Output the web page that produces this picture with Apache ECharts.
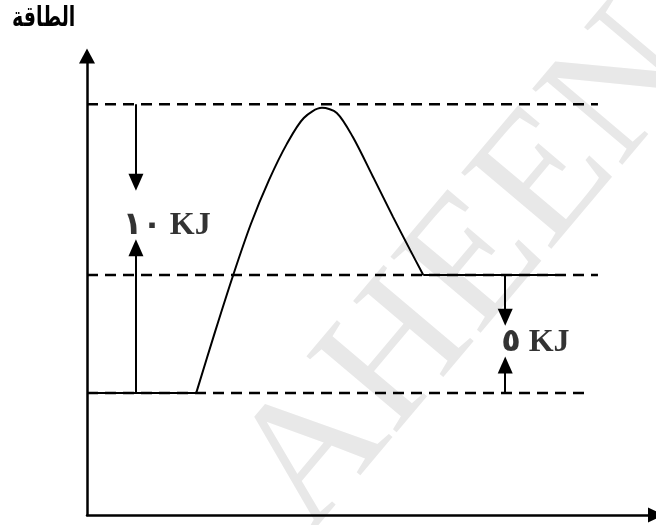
<!DOCTYPE html>
<html>
<head>
<meta charset="utf-8">
<script src="https://cdn.jsdelivr.net/npm/echarts@6/dist/echarts.min.js"></script>
<style>
html, body { margin: 0; padding: 0; background: #fff; }
#chart { width: 656px; height: 525px; }
</style>
</head>
<body>
<div id="chart"></div>
<script>
// مخطط الطاقة - values in arbitrary units (x: reaction progress, y: energy)
var reactantLevel = 26.6;
var productLevel = 52.3;
var peakLevel = 89.5;

var reactantLine = [[0, 26.6], [19.2, 26.6]];
var humpCurve = [[19.2, 26.6], [22.5, 39.9], [25.7, 52.3], [28.8, 63.4], [32.0, 73.0],
	[35.1, 80.8], [38.1, 86.5], [41.3, 88.7], [43.9, 87.6], [46.7, 82.4],
	[50.3, 73.6], [53.8, 64.9], [56.8, 57.7], [59.1, 52.3]];
var productLine = [[59.1, 52.3], [84.0, 52.3]];

var dashedLevels = [
	{ y: peakLevel, end: 89.8 },
	{ y: productLevel, end: 89.8 },
	{ y: reactantLevel, end: 87.5 }
];

// arrows [x, fromY, toY]
var arrows = [
	[8.6, 89.5, 72.5],
	[8.6, 26.6, 58.2],
	[73.5, 52.3, 43.1],
	[73.5, 26.6, 32.7]
];

var labels = [
	{ text: '١٠ KJ', x: 14.0, y: 63.0 },
	{ text: '٥ KJ', x: 78.8, y: 37.5 }
];

var myChart = echarts.init(document.getElementById('chart'));

var series = [];
for (var i = 0; i < dashedLevels.length; i++) {
	series.push({
		type: 'line',
		data: [[0, dashedLevels[i].y], [dashedLevels[i].end, dashedLevels[i].y]],
		symbol: 'none',
		silent: true,
		lineStyle: { color: '#000', width: 2.5, type: [11, 7] }
	});
}
series.push({
	type: 'line', data: reactantLine, symbol: 'none',
	lineStyle: { color: '#000', width: 2 }
});
series.push({
	type: 'line', data: humpCurve, symbol: 'none', smooth: 0.3,
	lineStyle: { color: '#000', width: 2 }
});
series.push({
	type: 'line', data: productLine, symbol: 'none',
	lineStyle: { color: '#000', width: 2 }
});

var arrowData = [];
for (var j = 0; j < arrows.length; j++) {
	arrowData.push([{ coord: [arrows[j][0], arrows[j][1]] }, { coord: [arrows[j][0], arrows[j][2]] }]);
}
series.push({
	type: 'line',
	data: [],
	markLine: {
		silent: true,
		symbol: ['none', 'triangle'],
		symbolSize: [15, 17],
		label: { show: false },
		lineStyle: { color: '#000', width: 2, type: 'solid' },
		data: arrowData
	}
});

series.push({
	type: 'scatter',
	symbolSize: 0,
	data: labels.map(function (l) { return { value: [l.x, l.y], name: l.text }; }),
	label: {
		show: true,
		position: 'inside',
		formatter: '{b}',
		color: '#000',
		textBorderWidth: 0,
		fontSize: 32,
		fontWeight: 'bold',
		fontFamily: "'Liberation Serif', 'DejaVu Sans', serif"
	}
});

var option = {
	animation: false,
	graphic: [{
		// العلامة المائية
		type: 'text',
		x: 470,
		y: 272,
		rotation: 0.87,
		z: -10,
		silent: true,
		style: {
			text: 'AHEEN',
			fill: '#e8e8e8',
			font: "180px 'Liberation Serif', serif",
			align: 'center',
			verticalAlign: 'middle'
		}
	}, {
		type: 'text',
		x: 12,
		y: 5,
		scaleX: 0.68,
		style: {
			text: 'الطاقة',
			fill: '#000',
			font: "bold 28px 'DejaVu Sans', sans-serif"
		}
	}],
	grid: { left: 87, right: 0, top: 56, bottom: 10 },
	xAxis: {
		type: 'value', min: 0, max: 100,
		axisLine: { show: true, symbol: ['none', 'triangle'], symbolSize: [15, 16], lineStyle: { color: '#000', width: 2.5 } },
		axisTick: { show: false }, axisLabel: { show: false }, splitLine: { show: false }
	},
	yAxis: {
		type: 'value', min: 0, max: 100,
		axisLine: { show: true, symbol: ['none', 'triangle'], symbolSize: [16, 15], lineStyle: { color: '#000', width: 2.5 } },
		axisTick: { show: false }, axisLabel: { show: false }, splitLine: { show: false }
	},
	series: series
};
myChart.setOption(option);
</script>
</body>
</html>
